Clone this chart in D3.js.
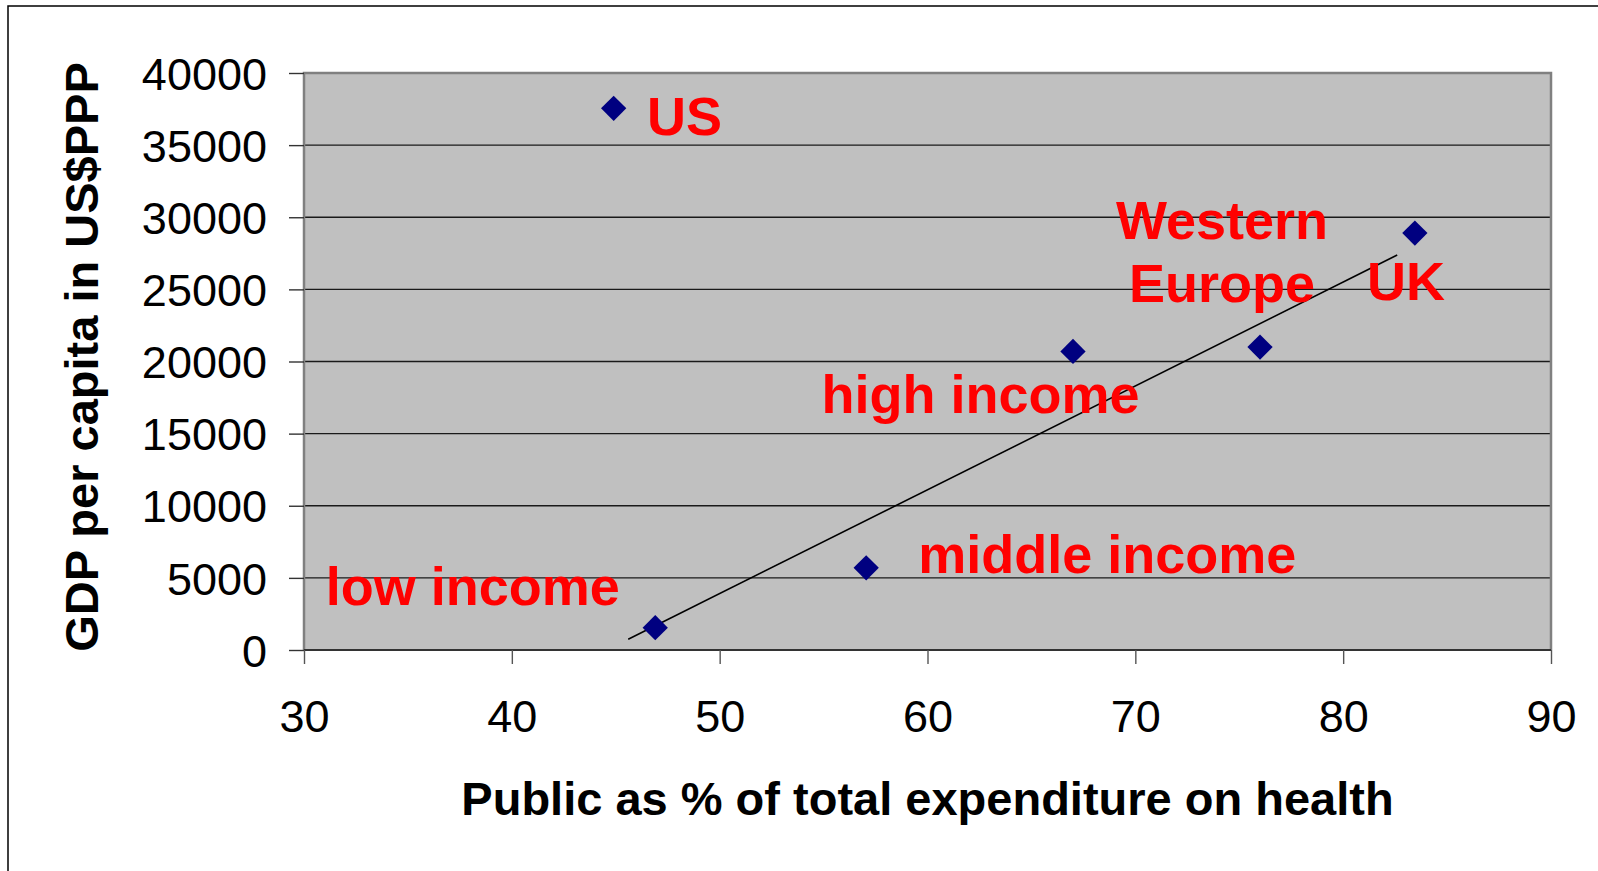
<!DOCTYPE html>
<html>
<head>
<meta charset="utf-8">
<script src="https://cdn.jsdelivr.net/npm/d3@7"></script>
<style>
  html, body { margin: 0; padding: 0; background: #ffffff; }
  svg { display: block; }
  text { font-family: "Liberation Sans", Arial, sans-serif; }
</style>
</head>
<body>
<svg id="chart" width="1598" height="871"></svg>
<script>
// ---- data ----
const names = ["US", "low income", "middle income", "high income", "Western Europe", "UK"];
const publicShare = [44.9, 46.9, 57.05, 67.0, 76.0, 83.45];
const gdpPerCapita = [37550, 1550, 5700, 20700, 21000, 28900];

const trendX = [45.6, 82.6];
const trendY = [740, 27380];

const xTicks = [30, 40, 50, 60, 70, 80, 90];
const yTicks = [0, 5000, 10000, 15000, 20000, 25000, 30000, 35000, 40000];

const labelLines = [["US"], ["low income"], ["middle income"], ["high income"], ["Western", "Europe"], ["UK"]];
const labelAnchorX = [46.5, 31.05, 59.55, 54.9, 74.17, 81.15];
const labelAnchorY = [35700, 3120, 5360, 16450, 28470, 24260];
const labelAlign = ["start", "start", "start", "start", "middle", "start"];

const xTitle = "Public as % of total expenditure on health";
const yTitle = "GDP per capita in US$PPP";

// ---- layout ----
const svg = d3.select("#chart");
const plot = { left: 304, right: 1551, top: 73, bottom: 650 };

const x = d3.scaleLinear().domain([30, 90]).range([plot.left, plot.right]);
const y = d3.scaleLinear().domain([0, 40000]).range([plot.bottom, plot.top]);

// outer frame
svg.append("rect")
  .attr("x", 8).attr("y", 6)
  .attr("width", 1620).attr("height", 900)
  .attr("fill", "none").attr("stroke", "#000").attr("stroke-width", 1.5);

// plot background
svg.append("rect")
  .attr("x", plot.left).attr("y", plot.top)
  .attr("width", plot.right - plot.left).attr("height", plot.bottom - plot.top)
  .attr("fill", "#c0c0c0");

// gridlines
svg.append("g").selectAll("line")
  .data(yTicks.filter(d => d !== 0 && d !== 40000))
  .join("line")
  .attr("x1", plot.left).attr("x2", plot.right)
  .attr("y1", d => y(d)).attr("y2", d => y(d))
  .attr("stroke", "#1a1a1a").attr("stroke-width", 1.4);

// plot border (gray)
svg.append("path")
  .attr("d", `M${plot.left},${plot.bottom} V${plot.top} H${plot.right} V${plot.bottom}`)
  .attr("fill", "none").attr("stroke", "#808080").attr("stroke-width", 2.5);

// y axis
const yAxis = svg.append("g")
  .attr("transform", `translate(${plot.left},0)`)
  .call(d3.axisLeft(y).tickValues(yTicks).tickSize(15).tickPadding(22).tickFormat(d3.format("d")));
yAxis.select(".domain").remove();
yAxis.selectAll(".tick line").attr("stroke", "#333").attr("stroke-width", 1.4);
yAxis.selectAll(".tick text")
  .attr("font-size", 45).attr("fill", "#000")
  .attr("font-family", "Liberation Sans, Arial, sans-serif")
  .attr("dy", "0.36em");

// x axis
const xAxis = svg.append("g")
  .attr("transform", `translate(0,${plot.bottom})`)
  .call(d3.axisBottom(x).tickValues(xTicks).tickSize(14).tickPadding(68).tickFormat(d3.format("d")));
xAxis.select(".domain")
  .attr("d", `M${plot.left},0H${plot.right}`)
  .attr("stroke", "#333").attr("stroke-width", 2);
xAxis.selectAll(".tick line").attr("stroke", "#555").attr("stroke-width", 1.4);
xAxis.selectAll(".tick text")
  .attr("font-size", 45).attr("fill", "#000")
  .attr("font-family", "Liberation Sans, Arial, sans-serif")
  .attr("dy", "0");

// axis titles
svg.append("text")
  .attr("x", (plot.left + plot.right) / 2).attr("y", 815)
  .attr("text-anchor", "middle")
  .attr("font-size", 47).attr("font-weight", "bold").attr("fill", "#000")
  .text(xTitle);

svg.append("text")
  .attr("transform", `translate(98,357) rotate(-90)`)
  .attr("text-anchor", "middle")
  .attr("font-size", 47).attr("font-weight", "bold").attr("fill", "#000")
  .text(yTitle);

// trend line
svg.append("line")
  .attr("x1", x(trendX[0])).attr("y1", y(trendY[0]))
  .attr("x2", x(trendX[1])).attr("y2", y(trendY[1]))
  .attr("stroke", "#000").attr("stroke-width", 1.6);

// points (diamonds)
const diamond = d3.symbol().type(d3.symbolSquare).size(320);
svg.append("g").selectAll("path")
  .data(names.map((n, i) => ({ n, px: publicShare[i], py: gdpPerCapita[i] })))
  .join("path")
  .attr("d", diamond)
  .attr("transform", d => `translate(${x(d.px)},${y(d.py)}) rotate(45)`)
  .attr("fill", "#000080");

// labels
const lg = svg.append("g");
labelLines.forEach((lines, i) => {
  const t = lg.append("text")
    .attr("x", x(labelAnchorX[i])).attr("y", y(labelAnchorY[i]))
    .attr("text-anchor", labelAlign[i])
    .attr("font-size", 54).attr("font-weight", "bold").attr("fill", "#ff0000");
  lines.forEach((ln, j) => {
    t.append("tspan")
      .attr("x", x(labelAnchorX[i]))
      .attr("dy", j === 0 ? 0 : 62.4)
      .text(ln);
  });
});
</script>
</body>
</html>
